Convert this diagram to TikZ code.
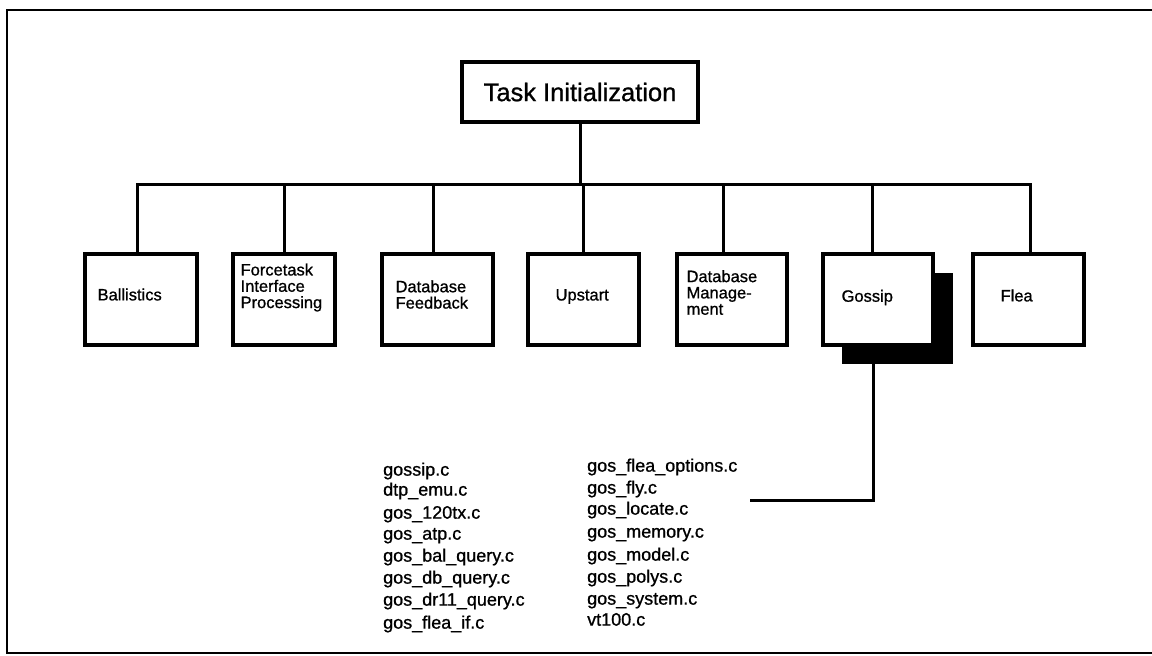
\documentclass[tikz,border=0pt]{standalone}
\usepackage{fontspec}
\setmainfont{Liberation Sans}
\newfontfamily\heavysans{Liberation Sans}[FakeBold=0.9]
\begin{document}
\begin{tikzpicture}[x=1pt,y=-1pt,
  frame/.style={draw=black,line width=2.6pt},
  wire/.style={draw=black,line width=3pt},
  titlebox/.style={draw=black,line width=3.2pt,fill=white,minimum width=236pt,minimum height=60pt,inner sep=0pt,font=\heavysans\fontsize{25.5}{27}\selectfont},
  modbox/.style={draw=black,line width=3.2pt,fill=white,minimum height=91pt,inner sep=0pt},
  shadowbox/.style={fill=black,minimum width=111pt,minimum height=91pt,inner sep=0pt},
  modlabel/.style={anchor=west,align=left,inner sep=0pt,font=\heavysans\fontsize{16.5}{16.3}\selectfont},
  filename/.style={anchor=mid west,inner sep=0pt,font=\heavysans\fontsize{18}{20}\selectfont}
]
\useasboundingbox (0,0) rectangle (1152,656);
\fill[white] (0,0) rectangle (1152,656);

% outer frame
\draw[frame] (7,10) rectangle (1153,653);

% root of the hierarchy
\node[titlebox] (task) at (580,92) {Task Initialization};

% module boxes on the second level
\node[modbox,minimum width=112pt] (ball)  at (141,299.5) {};
\node[modbox,minimum width=102pt] (force) at (284,299.5) {};
\node[modbox,minimum width=111pt] (dbf)   at (437.5,299.5) {};
\node[modbox,minimum width=111pt] (up)    at (583.5,299.5) {};
\node[modbox,minimum width=110pt] (dbm)   at (732,299.5) {};
\node[shadowbox] (gshadow) at (897.5,318.5) {};
\node[modbox,minimum width=110pt] (gossip) at (878,299.5) {};
\node[modbox,minimum width=111pt] (flea)  at (1028.5,299.5) {};

% module names
\node[modlabel] (ballT)  at ([xshift=14pt,yshift=5pt]ball.west)  {Ballistics};
\node[modlabel] (forceT) at ([xshift=9pt,yshift=12pt]force.west) {Forcetask\\Interface\\Processing};
\node[modlabel] (dbfT)   at ([xshift=15pt,yshift=5pt]dbf.west)   {Database\\Feedback};
\node[modlabel] (upT)    at ([xshift=29pt,yshift=3pt]up.west)    {Upstart};
\node[modlabel] (dbmT)   at ([xshift=11pt,yshift=7pt]dbm.west)   {Database\\Manage-\\ment};
\node[modlabel] (gossipT) at ([xshift=20pt,yshift=2pt]gossip.west) {Gossip};
\node[modlabel] (fleaT)  at ([xshift=29pt,yshift=4pt]flea.west)  {Flea};

% bus joining the modules to the root
\coordinate (busL) at (137,184);
\coordinate (busR) at (1030,184);
\draw[wire] (task.south) -- (task.south |- busL);
\draw[wire,line cap=rect] (busL) -- (busR);
\foreach \n/\x in {ball/137,force/284,dbf/433,up/583,dbm/723,gossip/872,flea/1030}
  \draw[wire] (\x,184) -- (\x,184 |- \n.north);

% source files of the Gossip module
\foreach \t/\y [count=\i] in {gossip.c/473,dtp\_emu.c/493,gos\_120tx.c/516,gos\_atp.c/537,gos\_bal\_query.c/559,gos\_db\_query.c/581,gos\_dr11\_query.c/603,gos\_flea\_if.c/626}
  \node[filename] (fa\i) at (383,\y) {\t};
\foreach \t/\y [count=\i] in {gos\_flea\_options.c/469,gos\_fly.c/491,gos\_locate.c/512,gos\_memory.c/535,gos\_model.c/558,gos\_polys.c/580,gos\_system.c/602,vt100.c/623}
  \node[filename] (fb\i) at (587,\y) {\t};

\coordinate (listend) at (750,500);
\draw[wire] (873,363 |- gshadow.south) -- (873,500) -- (listend);
\end{tikzpicture}
\end{document}
